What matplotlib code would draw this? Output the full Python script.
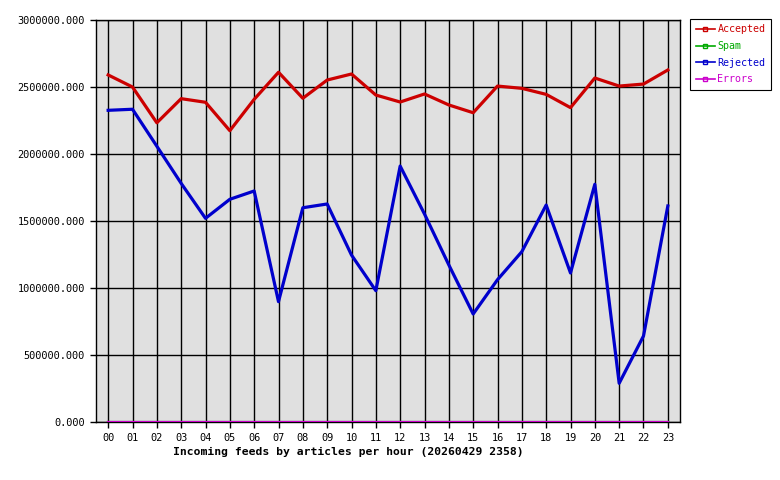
import matplotlib

matplotlib.use("Agg")
import matplotlib.pyplot as plt
from matplotlib.ticker import FormatStrFormatter

hours = [f"{h:02d}" for h in range(24)]

accepted = [2590000, 2500000, 2233000, 2413000, 2386000, 2174000, 2408000, 2610000,
            2416000, 2552000, 2597000, 2440000, 2388000, 2448000, 2366000, 2308000,
            2507000, 2490000, 2445000, 2346000, 2567000, 2507000, 2522000, 2627000]
spam = [0] * 24
rejected = [2326000, 2334000, 2058000, 1781000, 1520000, 1662000, 1724000, 898000,
            1599000, 1627000, 1246000, 980000, 1910000, 1552000, 1172000, 806000,
            1062000, 1271000, 1619000, 1112000, 1774000, 289000, 642000, 1612000]
errors = [0] * 24

yticks = [0, 500000, 1000000, 1500000, 2000000, 2500000, 3000000]

plt.rcParams["font.family"] = ["DejaVu Sans Mono"]

fig = plt.figure(figsize=(7.8, 4.8), dpi=100)
ax = fig.add_axes([96 / 780, 1 - 422 / 480, 584 / 780, 402 / 480])
ax.set_facecolor("#e0e0e0")

x = list(range(len(hours)))
lines = [
    ("Accepted", accepted, "#cc0000", 2.3),
    ("Spam", spam, "#00aa00", 1.6),
    ("Rejected", rejected, "#0000cc", 2.3),
    ("Errors", errors, "#cc00cc", 1.6),
]
for label, vals, color, lw in lines:
    ax.plot(x, vals, color=color, linewidth=lw, label=label, zorder=3)

ax.set_xlim(-0.5, 23.5)
ax.set_ylim(0, 3000000)
ax.set_xticks(x)
ax.set_xticklabels(hours)
ax.set_yticks(yticks)
ax.yaxis.set_major_formatter(FormatStrFormatter("%.3f"))
ax.tick_params(labelsize=7.4, length=4, width=1, color="black", pad=4)
ax.grid(True, color="black", linewidth=1)
ax.set_axisbelow(True)
for s in ax.spines.values():
    s.set_color("black")
    s.set_linewidth(1)

# legend handles with small open square markers
leg_handles = []
for label, vals, color, lw in lines:
    (lh,) = ax.plot([], [], color=color, linewidth=1.2, marker="s", markersize=2.5,
                    markerfacecolor="none", markeredgecolor=color)
    leg_handles.append(lh)

leg = fig.legend(leg_handles, [l[0] for l in lines], loc="upper left",
                 bbox_to_anchor=(690 / 780, 1 - 19 / 480), fancybox=False,
                 edgecolor="black", framealpha=1, fontsize=7.2, handlelength=1.9,
                 handletextpad=0.3, labelspacing=0.65, borderpad=0.55,
                 borderaxespad=0)
for text, (_, _, color, _) in zip(leg.get_texts(), lines):
    text.set_color(color)
leg.get_frame().set_linewidth(0.8)

fig.text(348 / 780, 1 - 452 / 480,
         "Incoming feeds by articles per hour (20260429 2358)",
         ha="center", va="center", fontsize=8.2, fontweight="bold")

fig.savefig("out.png", dpi=100)
